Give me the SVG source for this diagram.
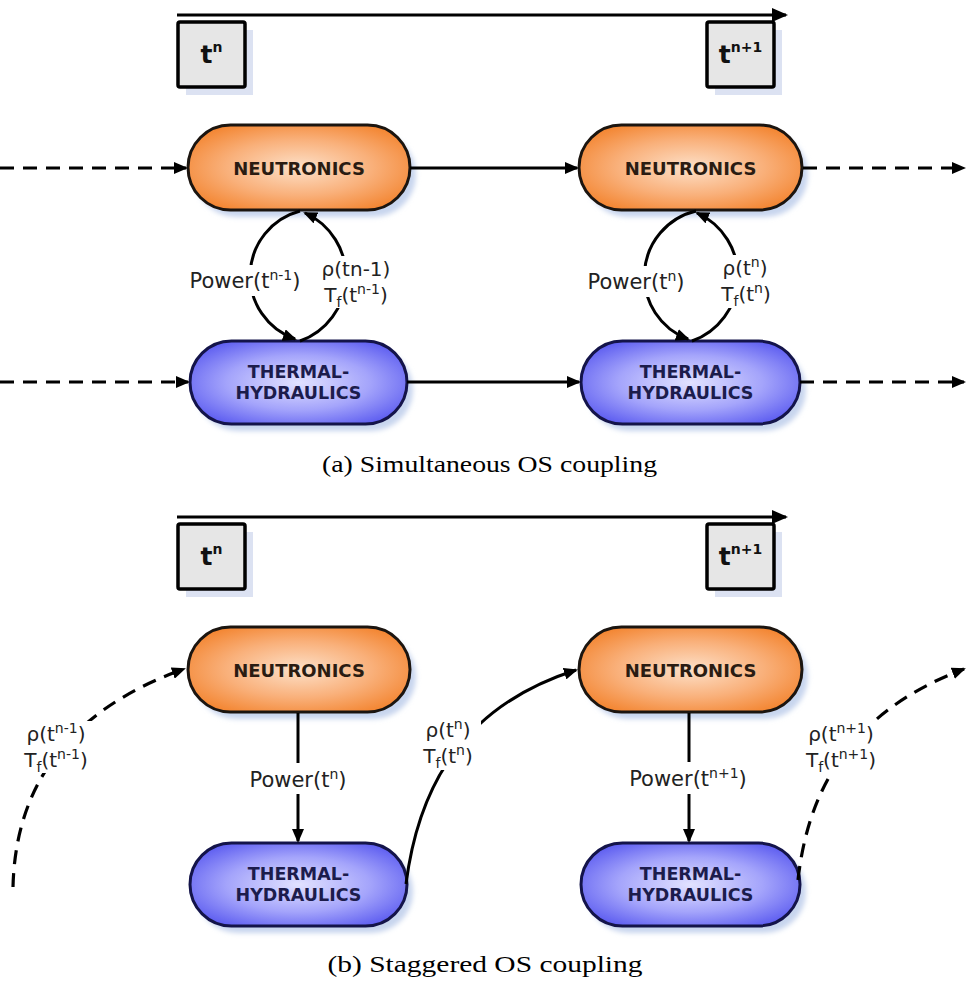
<svg xmlns="http://www.w3.org/2000/svg" width="969" height="993" viewBox="0 0 969 993">
<defs>
<radialGradient id="gOrange" cx="50%" cy="50%" r="60%">
<stop offset="0" stop-color="#fde0c8"/>
<stop offset="0.55" stop-color="#f9b07a"/>
<stop offset="1" stop-color="#f3842f"/>
</radialGradient>
<radialGradient id="gBlue" cx="50%" cy="50%" r="60%">
<stop offset="0" stop-color="#e2e2ff"/>
<stop offset="0.55" stop-color="#a4a4fb"/>
<stop offset="1" stop-color="#5c5cf0"/>
</radialGradient>
<filter id="blur" x="-20%" y="-20%" width="140%" height="140%"><feGaussianBlur stdDeviation="2.5"/></filter>
<marker id="ah" viewBox="0 0 14 12" refX="12" refY="6" markerWidth="14" markerHeight="12" markerUnits="userSpaceOnUse" orient="auto">
<path d="M0,0 L14,6 L0,12 z" fill="#000"/>
</marker>
<marker id="ahBig" viewBox="0 0 16 14" refX="14" refY="7" markerWidth="16" markerHeight="14" markerUnits="userSpaceOnUse" orient="auto">
<path d="M0,0 L16,7 L0,14 z" fill="#000"/>
</marker>
</defs>
<style>
.line{fill:none;stroke:#000;stroke-width:3}
.dash{fill:none;stroke:#000;stroke-width:3.2;stroke-dasharray:14 9}
.shadow{fill:#c8d5ee;filter:url(#blur)}
.neu{fill:url(#gOrange);stroke:#1b1510;stroke-width:3}
.th{fill:url(#gBlue);stroke:#14144a;stroke-width:3}
.tbox{fill:#e6e6e6;stroke:#000;stroke-width:3.5}
.tshadow{fill:#dce2f2}
.ntext{font-family:"DejaVu Sans",Verdana,sans-serif;font-weight:bold;font-size:18px;fill:#2a1c12;text-anchor:middle}
.thtext{font-family:"DejaVu Sans",Verdana,sans-serif;font-weight:bold;font-size:17.5px;fill:#1c1c4c;text-anchor:middle}
.ttext{font-family:"DejaVu Sans",Verdana,sans-serif;font-weight:bold;font-size:25px;fill:#111;text-anchor:middle}
.lbl{font-family:"DejaVu Sans",Verdana,sans-serif;font-size:21px;fill:#222;text-anchor:middle}
.lbs{font-family:"DejaVu Sans",Verdana,sans-serif;font-size:20px;fill:#222;text-anchor:middle}
.cap{font-family:"Liberation Serif","Times New Roman",serif;font-size:24px;fill:#000;text-anchor:middle}
.bg{fill:#fff}
</style>
<rect x="0" y="0" width="969" height="993" fill="#fff"/>

<!-- ========== Panel (a) ========== -->
<g id="timeline-a">
<line class="line" x1="177" y1="15" x2="786" y2="15" marker-end="url(#ahBig)"/>
</g>
<g id="tn-a">
<rect class="tshadow" x="186" y="30" width="67" height="65"/>
<rect class="tbox" x="178" y="22" width="67" height="65" rx="2"/>
<text class="ttext" x="211.5" y="63">t<tspan font-size="14" dy="-11">n</tspan></text>
</g>
<g id="tn1-a">
<rect class="tshadow" x="715" y="30" width="67" height="65"/>
<rect class="tbox" x="707" y="22" width="67" height="65" rx="2"/>
<text class="ttext" x="740.5" y="63">t<tspan font-size="14" dy="-11">n+1</tspan></text>
</g>

<g id="neutronics-a1">
<rect class="shadow" x="194" y="132" width="222" height="85" rx="42.5"/>
<rect class="neu" x="188" y="125" width="222" height="85" rx="42.5"/>
<text class="ntext" x="299" y="175">NEUTRONICS</text>
</g>
<g id="neutronics-a2">
<rect class="shadow" x="585" y="132" width="223" height="85" rx="42.5"/>
<rect class="neu" x="579" y="125" width="223" height="85" rx="42.5"/>
<text class="ntext" x="690.5" y="175">NEUTRONICS</text>
</g>
<g id="th-a1">
<rect class="shadow" x="196" y="348" width="217" height="83" rx="41.5"/>
<rect class="th" x="190" y="341" width="217" height="83" rx="41.5"/>
<text class="thtext" x="298.5" y="378">THERMAL-</text>
<text class="thtext" x="298.5" y="399">HYDRAULICS</text>
</g>
<g id="th-a2">
<rect class="shadow" x="587" y="348" width="219" height="83" rx="41.5"/>
<rect class="th" x="581" y="341" width="219" height="83" rx="41.5"/>
<text class="thtext" x="690.5" y="378">THERMAL-</text>
<text class="thtext" x="690.5" y="399">HYDRAULICS</text>
</g>

<g id="connectors-a">
<line class="dash" x1="0" y1="168" x2="186" y2="168" marker-end="url(#ah)"/>
<line class="line" x1="410" y1="168" x2="577" y2="168" marker-end="url(#ah)"/>
<line class="dash" x1="803" y1="168" x2="964" y2="168" marker-end="url(#ah)"/>
<line class="dash" x1="0" y1="382" x2="188" y2="382" marker-end="url(#ah)"/>
<line class="line" x1="407" y1="382" x2="579" y2="382" marker-end="url(#ah)"/>
<line class="dash" x1="800" y1="382" x2="964" y2="382" marker-end="url(#ah)"/>
<path class="line" d="M300,211 A67,67 0 0 0 295,339" marker-end="url(#ah)"/>
<path class="line" d="M300,341 A69,69 0 0 0 305,213" marker-end="url(#ah)"/>
<path class="line" d="M696,211 A67,67 0 0 0 688,339" marker-end="url(#ah)"/>
<path class="line" d="M692,341 A69,69 0 0 0 697,213" marker-end="url(#ah)"/>
<rect class="bg" x="183" y="265" width="123" height="31"/>
<rect class="bg" x="316" y="256" width="82" height="52"/>
<rect class="bg" x="580" y="266" width="112" height="31"/>
<rect class="bg" x="711" y="255" width="70" height="53"/>
<text class="lbl" x="245" y="288">Power(t<tspan font-size="14" dy="-8">n-1</tspan><tspan dy="8">)</tspan></text>
<text class="lbs" x="356" y="276">ρ(tn-1)</text>
<text class="lbs" x="356" y="302">T<tspan font-size="14" dy="5">f</tspan><tspan dy="-5">(t</tspan><tspan font-size="14" dy="-8">n-1</tspan><tspan dy="8">)</tspan></text>
<text class="lbl" x="636" y="289">Power(t<tspan font-size="14" dy="-8">n</tspan><tspan dy="8">)</tspan></text>
<text class="lbs" x="745" y="275">ρ(t<tspan font-size="14" dy="-8">n</tspan><tspan dy="8">)</tspan></text>
<text class="lbs" x="746" y="301">T<tspan font-size="14" dy="5">f</tspan><tspan dy="-5">(t</tspan><tspan font-size="14" dy="-8">n</tspan><tspan dy="8">)</tspan></text>
</g>
<text class="cap" x="489.5" y="472" textLength="335" lengthAdjust="spacingAndGlyphs">(a) Simultaneous OS coupling</text>

<!-- ========== Panel (b) ========== -->
<g id="timeline-b">
<line class="line" x1="177" y1="517" x2="786" y2="517" marker-end="url(#ahBig)"/>
</g>
<g id="tn-b">
<rect class="tshadow" x="186" y="532" width="67" height="65"/>
<rect class="tbox" x="178" y="524" width="67" height="65" rx="2"/>
<text class="ttext" x="211.5" y="565">t<tspan font-size="14" dy="-11">n</tspan></text>
</g>
<g id="tn1-b">
<rect class="tshadow" x="715" y="532" width="67" height="65"/>
<rect class="tbox" x="707" y="524" width="67" height="65" rx="2"/>
<text class="ttext" x="740.5" y="565">t<tspan font-size="14" dy="-11">n+1</tspan></text>
</g>

<g id="neutronics-b1">
<rect class="shadow" x="194" y="634" width="222" height="85" rx="42.5"/>
<rect class="neu" x="188" y="627" width="222" height="85" rx="42.5"/>
<text class="ntext" x="299" y="677">NEUTRONICS</text>
</g>
<g id="neutronics-b2">
<rect class="shadow" x="585" y="634" width="223" height="85" rx="42.5"/>
<rect class="neu" x="579" y="627" width="223" height="85" rx="42.5"/>
<text class="ntext" x="690.5" y="677">NEUTRONICS</text>
</g>
<g id="th-b1">
<rect class="shadow" x="196" y="850" width="217" height="83" rx="41.5"/>
<rect class="th" x="190" y="843" width="217" height="83" rx="41.5"/>
<text class="thtext" x="298.5" y="880">THERMAL-</text>
<text class="thtext" x="298.5" y="901">HYDRAULICS</text>
</g>
<g id="th-b2">
<rect class="shadow" x="587" y="850" width="219" height="83" rx="41.5"/>
<rect class="th" x="581" y="843" width="219" height="83" rx="41.5"/>
<text class="thtext" x="690.5" y="880">THERMAL-</text>
<text class="thtext" x="690.5" y="901">HYDRAULICS</text>
</g>

<g id="connectors-b">
<path class="dash" d="M13,887 C15,800 55,715 184,669" marker-end="url(#ah)"/>
<path class="line" d="M406,884 C418,790 460,707 576,670" marker-end="url(#ah)"/>
<path class="dash" d="M798,880 C808,790 850,712 964,669" marker-end="url(#ah)"/>
<line class="line" x1="298" y1="713" x2="298" y2="841" marker-end="url(#ah)"/>
<line class="line" x1="689" y1="713" x2="689" y2="841" marker-end="url(#ah)"/>
<rect class="bg" x="238" y="763" width="120" height="31"/>
<rect class="bg" x="622" y="762" width="132" height="32"/>
<rect class="bg" x="16" y="721" width="82" height="52"/>
<rect class="bg" x="417" y="717" width="64" height="53"/>
<rect class="bg" x="799" y="721" width="86" height="52"/>
<text class="lbl" x="298" y="787">Power(t<tspan font-size="14" dy="-8">n</tspan><tspan dy="8">)</tspan></text>
<text class="lbl" x="688" y="786">Power(t<tspan font-size="14" dy="-8">n+1</tspan><tspan dy="8">)</tspan></text>
<text class="lbs" x="56" y="741">ρ(t<tspan font-size="14" dy="-8">n-1</tspan><tspan dy="8">)</tspan></text>
<text class="lbs" x="56" y="767">T<tspan font-size="14" dy="5">f</tspan><tspan dy="-5">(t</tspan><tspan font-size="14" dy="-8">n-1</tspan><tspan dy="8">)</tspan></text>
<text class="lbs" x="448" y="737">ρ(t<tspan font-size="14" dy="-8">n</tspan><tspan dy="8">)</tspan></text>
<text class="lbs" x="448" y="763">T<tspan font-size="14" dy="5">f</tspan><tspan dy="-5">(t</tspan><tspan font-size="14" dy="-8">n</tspan><tspan dy="8">)</tspan></text>
<text class="lbs" x="841" y="741">ρ(t<tspan font-size="14" dy="-8">n+1</tspan><tspan dy="8">)</tspan></text>
<text class="lbs" x="841" y="767">T<tspan font-size="14" dy="5">f</tspan><tspan dy="-5">(t</tspan><tspan font-size="14" dy="-8">n+1</tspan><tspan dy="8">)</tspan></text>
</g>
<text class="cap" x="485" y="972" textLength="315" lengthAdjust="spacingAndGlyphs">(b) Staggered OS coupling</text>
</svg>
